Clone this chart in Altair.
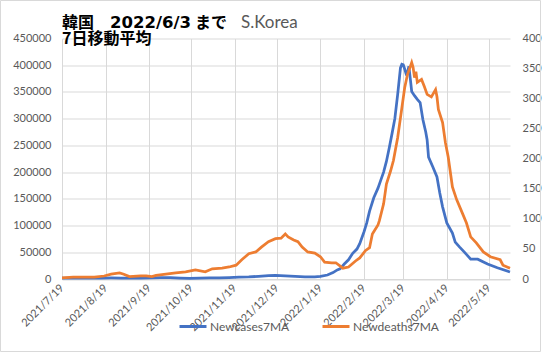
import altair as alt
import pandas as pd

# ---------------- data (7-day moving averages) ----------------
case_dates = [
    "2021-07-19", "2021-07-26", "2021-08-02", "2021-08-09", "2021-08-16", "2021-08-23",
    "2021-08-30", "2021-09-06", "2021-09-13", "2021-09-20", "2021-09-27", "2021-10-04",
    "2021-10-11", "2021-10-18", "2021-10-25", "2021-11-01", "2021-11-08", "2021-11-15",
    "2021-11-22", "2021-11-29", "2021-12-06", "2021-12-13", "2021-12-18", "2021-12-25",
    "2022-01-01", "2022-01-08", "2022-01-15", "2022-01-19", "2022-01-24", "2022-01-28",
    "2022-01-31", "2022-02-02", "2022-02-05", "2022-02-08", "2022-02-11", "2022-02-14",
    "2022-02-16", "2022-02-19", "2022-02-21", "2022-02-23", "2022-02-26", "2022-03-01",
    "2022-03-03", "2022-03-05", "2022-03-07", "2022-03-09", "2022-03-11", "2022-03-13",
    "2022-03-15", "2022-03-17", "2022-03-18", "2022-03-19", "2022-03-20", "2022-03-21",
    "2022-03-22", "2022-03-23", "2022-03-24", "2022-03-25", "2022-03-27", "2022-03-29",
    "2022-03-31", "2022-04-02", "2022-04-04", "2022-04-05", "2022-04-06", "2022-04-09",
    "2022-04-12", "2022-04-14", "2022-04-16", "2022-04-19", "2022-04-23", "2022-04-25",
    "2022-04-28", "2022-05-02", "2022-05-06", "2022-05-11", "2022-05-18", "2022-05-25",
    "2022-06-03",
]
case_values = [
    1500, 1600, 1500, 1600, 1800, 2000,
    1800, 1700, 1800, 2000, 2700, 2500,
    1800, 1400, 1600, 2100, 2300, 2600,
    3300, 3800, 5000, 6200, 6900, 6000,
    4700, 3800, 4000, 4800, 7500, 12000,
    17000, 19000, 28000, 36000, 48000, 56000,
    66000, 88000, 105000, 127000, 152000, 170000,
    185000, 200000, 220000, 245000, 272000, 300000,
    345000, 395000, 402000, 401000, 393000, 384000,
    386000, 398000, 375000, 351000, 343000, 336000,
    330000, 298000, 275000, 260000, 228000, 210000,
    191000, 161000, 135000, 105000, 86000, 69000,
    60000, 49000, 37000, 37000, 28000, 21000,
    13000,
]

death_dates = [
    "2021-07-19", "2021-07-27", "2021-08-11", "2021-08-18", "2021-08-23", "2021-08-29",
    "2021-09-01", "2021-09-05", "2021-09-13", "2021-09-17", "2021-09-21", "2021-09-24",
    "2021-10-01", "2021-10-08", "2021-10-15", "2021-10-22", "2021-10-29", "2021-11-03",
    "2021-11-10", "2021-11-15", "2021-11-20", "2021-11-24", "2021-11-29", "2021-12-04",
    "2021-12-08", "2021-12-13", "2021-12-18", "2021-12-22", "2021-12-25", "2021-12-27",
    "2021-12-31", "2022-01-03", "2022-01-06", "2022-01-10", "2022-01-15", "2022-01-19",
    "2022-01-22", "2022-01-27", "2022-01-30", "2022-02-04", "2022-02-08", "2022-02-13",
    "2022-02-16", "2022-02-20", "2022-02-23", "2022-02-25", "2022-03-01", "2022-03-02",
    "2022-03-05", "2022-03-07", "2022-03-10", "2022-03-12", "2022-03-15", "2022-03-17",
    "2022-03-20", "2022-03-22", "2022-03-25", "2022-03-26", "2022-03-27", "2022-03-28",
    "2022-03-29", "2022-04-01", "2022-04-03", "2022-04-05", "2022-04-08", "2022-04-11",
    "2022-04-12", "2022-04-13", "2022-04-16", "2022-04-18", "2022-04-20", "2022-04-23",
    "2022-04-26", "2022-04-30", "2022-05-03", "2022-05-06", "2022-05-10", "2022-05-15",
    "2022-05-20", "2022-05-27", "2022-05-29", "2022-06-03",
]
death_values = [
    2, 3, 3, 5, 8, 10,
    8, 4, 5, 5, 4, 6,
    8, 10, 12, 15, 12, 17,
    18, 20, 23, 32, 42, 45,
    53, 62, 67, 68, 75, 70,
    65, 62, 53, 45, 43, 37,
    28, 27, 27, 18, 20, 30,
    35, 47, 52, 75, 90, 97,
    125, 158, 180, 197, 235, 268,
    318, 340, 360, 352, 335, 345,
    327, 332, 320, 307, 303, 315,
    303, 282, 260, 227, 203, 153,
    132, 110, 93, 70, 60, 45,
    37, 32, 23, 18,
]

series_names = ["Newcases7MA", "Newdeaths7MA"]
tick_months = [(2021, 7), (2021, 8), (2021, 9), (2021, 10), (2021, 11), (2021, 12),
               (2022, 1), (2022, 2), (2022, 3), (2022, 4), (2022, 5)]
left_ticks = [0, 50000, 100000, 150000, 200000, 250000, 300000, 350000, 400000, 450000]
right_ticks = [0, 50, 100, 150, 200, 250, 300, 350, 400]

# ---------------- styling ----------------
BLUE = "#4472C4"
ORANGE = "#ED7D31"
GRAY = "#595959"
GRID = "#D9D9D9"
FONT = "Lato"
CJK = "Noto Sans CJK JP"

cases = pd.DataFrame({"date": pd.to_datetime(case_dates), "value": case_values,
                      "series": series_names[0]})
deaths = pd.DataFrame({"date": pd.to_datetime(death_dates), "value": death_values,
                       "series": series_names[1]})
one = pd.DataFrame({"k": [0]})

x_enc = alt.X(
    "date:T",
    scale=alt.Scale(domain=[alt.DateTime(year=2021, month=7, date=19),
                            alt.DateTime(year=2022, month=6, date=3)]),
    axis=alt.Axis(
        values=[alt.DateTime(year=y, month=m, date=19) for y, m in tick_months],
        format="%Y/%-m/%-d", labelAngle=-45, labelAlign="right", labelBaseline="middle",
        labelOverlap=False, labelBound=False, labelFlush=False,
        grid=True, gridColor=GRID, domainColor=GRID, ticks=False, labelPadding=7,
        labelFont=FONT, labelFontSize=11, labelColor=GRAY, title=None,
    ),
)

color_enc = alt.Color(
    "series:N",
    scale=alt.Scale(domain=series_names, range=[BLUE, ORANGE]),
    legend=alt.Legend(
        orient="none", legendX=116, legendY=273, direction="horizontal", title=None,
        symbolType="stroke", symbolStrokeWidth=3, symbolSize=729,
        labelFont=FONT, labelFontSize=12, labelColor=GRAY, columnPadding=26,
        labelOffset=2, padding=0,
    ),
)

blue = alt.Chart(cases).mark_line(strokeWidth=2.75).encode(
    x=x_enc,
    y=alt.Y("value:Q", scale=alt.Scale(domain=[0, 450000], nice=False),
            axis=alt.Axis(values=left_ticks, format="d", grid=True, gridColor=GRID,
                          domain=False, ticks=False, labelPadding=11, labelFont=FONT,
                          labelFontSize=11, labelColor=GRAY, title=None)),
    color=color_enc,
)

orange = alt.Chart(deaths).mark_line(strokeWidth=2.75).encode(
    x=x_enc,
    y=alt.Y("value:Q", scale=alt.Scale(domain=[0, 400], nice=False),
            axis=alt.Axis(orient="right", values=right_ticks, grid=False, domain=False,
                          ticks=False, labelPadding=12, labelFont=FONT, labelFontSize=11,
                          labelColor=GRAY, title=None)),
    color=color_enc,
)


def label(txt, xpos, ypos, font, weight, color, size=16):
    return alt.Chart(one).mark_text(
        text=txt, font=font, fontSize=size, fontWeight=weight, align="left",
        baseline="alphabetic", color=color,
    ).encode(x=alt.value(xpos), y=alt.value(ypos))


t1 = label("韓国", 0, -10.5, CJK, "bold", "black")
t2a = label("2022/6/3", 48, -10.5, "DejaVu Sans", "bold", "black", 16.5)
t2b = label("まで", 133, -10.5, CJK, "bold", "black")
t3 = label("S.Korea", 179, -10.5, FONT, "normal", GRAY, 17)
t4 = label("7日移動平均", 0, 5.5, CJK, "bold", "black")

border = alt.Chart(one).mark_rect(fillOpacity=0, stroke=GRID, strokeWidth=1).encode(
    x=alt.value(-61.5), x2=alt.value(478.5), y=alt.value(-38), y2=alt.value(313)
)

chart = (
    alt.layer(blue, orange, t1, t2a, t2b, t3, t4, border)
    .resolve_scale(y="independent")
    .properties(
        width=448, height=240.5,
        autosize=alt.AutoSizeParams(type="none"),
        padding={"left": 62, "top": 38.5, "right": 32, "bottom": 75},
        background="white",
    )
    .configure_view(stroke=None)
)

chart.save("out.html", embed_options={"renderer": "svg", "actions": False})
